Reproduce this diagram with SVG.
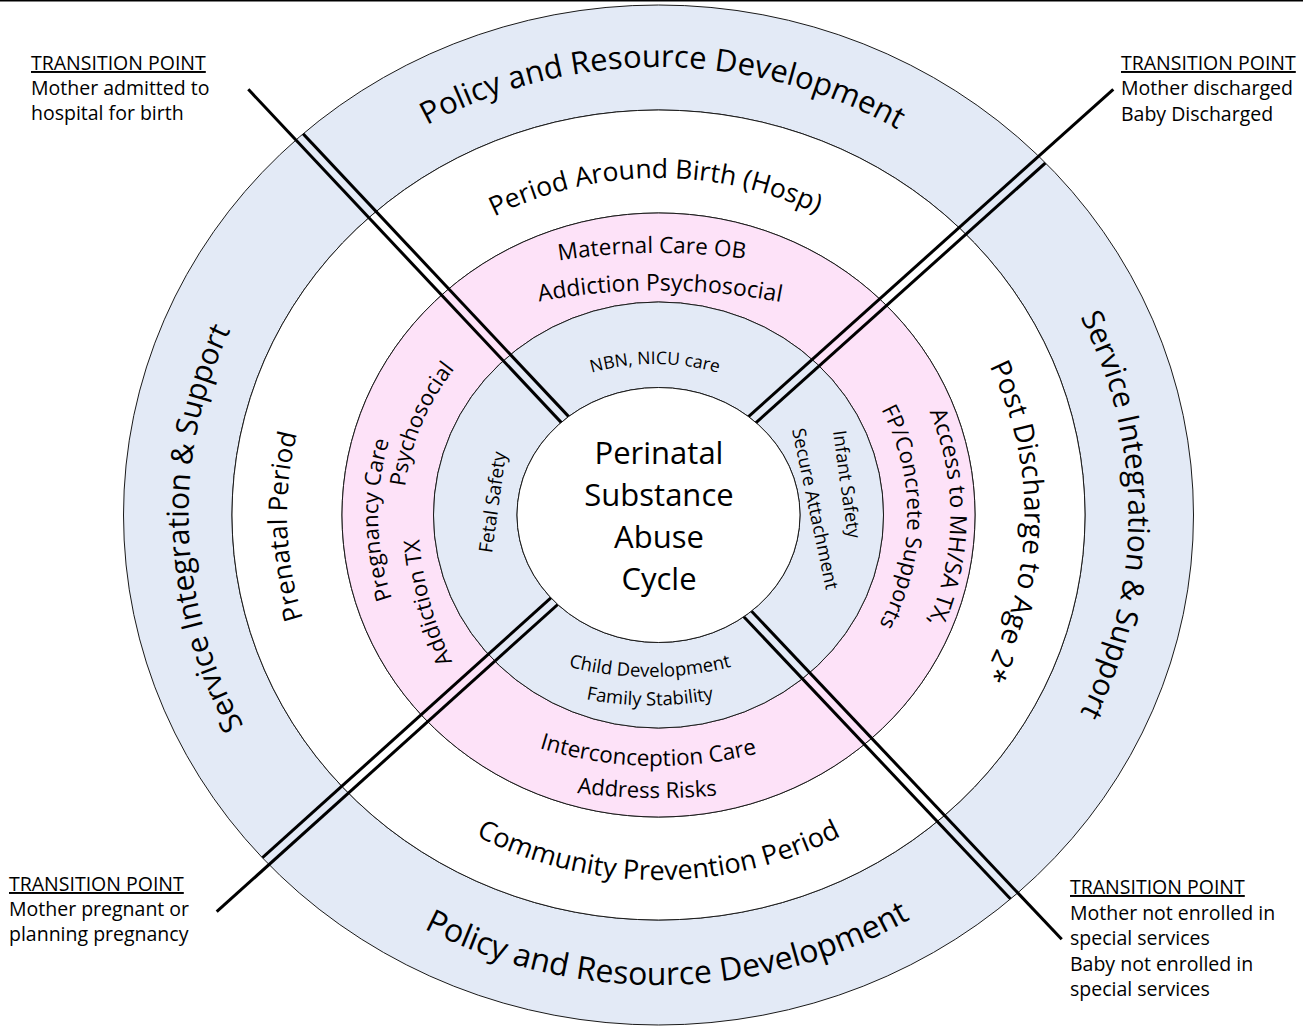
<svg xmlns="http://www.w3.org/2000/svg" width="1303" height="1029" viewBox="0 0 1303 1029">
<style>
.ring{stroke:#1a1a1a;stroke-width:1;fill-rule:evenodd}
.blue{fill:#E3EAF6}
.pink{fill:#FDE2F8}
.white{fill:#ffffff}
.t{font-family:"Open Sans","DejaVu Sans",sans-serif;fill:#000}
.mid{text-anchor:middle}
.lbl{font-family:"Open Sans","DejaVu Sans",sans-serif;font-size:19.5px;fill:#000}
.conn{stroke:#000;stroke-width:3;fill:none}
</style>
<defs>
<clipPath id="inOuter"><ellipse cx="658.5" cy="515" rx="535" ry="510"/></clipPath>
<path id="p1top" d="M 188.5 515 A 470 448 0 0 1 1128.5 515"/>
<path id="p1bot" d="M 165.5 515 A 493 470 0 0 0 1151.5 515"/>
<path id="p1left" d="M 658.5 963 A 470 448 0 0 1 658.5 67"/>
<path id="p1right" d="M 658.5 67 A 470 448 0 0 1 658.5 963"/>
<path id="p2top" d="M 304.5 515 A 354 337 0 0 1 1012.5 515"/>
<path id="p2bot" d="M 275.5 515 A 383 365 0 0 0 1041.5 515"/>
<path id="p2left" d="M 658.5 869 A 371.5 354 0 0 1 658.5 161"/>
<path id="p2right" d="M 658.5 166 A 366 349 0 0 1 658.5 864"/>
<path id="p3top1" d="M 458 284.5 A 650 650 0 0 1 858 284.5"/>
<path id="p3top2" d="M 458 322 A 650 650 0 0 1 858 322"/>
<path id="p3bot1" d="M 458 712.4 A 400 400 0 0 0 858 712.4"/>
<path id="p3bot2" d="M 458 766.5 A 650 650 0 0 0 858 766.5"/>
<path id="p3left1" d="M 446.9 690.2 A 280.35 267 0 0 1 440.6 347"/>
<path id="p3left2" d="M 416.5 592.1 A 255.15 243 0 0 1 536.7 301.5"/>
<path id="p3left3" d="M 470.3 694.55 A 350 350 0 0 1 418.2 501.45"/>
<path id="p3right1" d="M 883.7 338.2 A 291.9 278 0 0 1 880.5 695.5"/>
<path id="p3right2" d="M 850.5 364.2 A 248.85 237 0 0 1 847.7 668.9"/>
<path id="p4top" d="M 535 397.8 A 230 230 0 0 1 775 397.8"/>
<path id="p4bot1" d="M 500 640.9 A 330 330 0 0 0 800 640.9"/>
<path id="p4bot2" d="M 500 669.4 A 330 330 0 0 0 800 669.4"/>
</defs>
<line x1="0" y1="0.8" x2="1303" y2="0.8" stroke="#000" stroke-width="1.6"/>
<g id="ring-policy">
<path class="ring blue" d="M 123.5 515 A 535 510 0 1 0 1193.5 515 A 535 510 0 1 0 123.5 515 Z M 232 515 A 426.5 405 0 1 0 1085 515 A 426.5 405 0 1 0 232 515 Z"/>
<text class="t" font-size="31"><textPath href="#p1top" startOffset="50.3%" text-anchor="middle">Policy and Resource Development</textPath></text>
<text class="t" font-size="32"><textPath href="#p1bot" startOffset="50.65%" text-anchor="middle">Policy and Resource Development</textPath></text>
<text class="t" font-size="30"><textPath href="#p1left" startOffset="49%" text-anchor="middle">Service Integration &amp; Support</textPath></text>
<text class="t" font-size="30"><textPath href="#p1right" startOffset="50%" text-anchor="middle">Service Integration &amp; Support</textPath></text>
</g>
<g id="ring-periods">
<path class="ring white" d="M 232 515 A 426.5 405 0 1 0 1085 515 A 426.5 405 0 1 0 232 515 Z M 342 515 A 316.5 302 0 1 0 975 515 A 316.5 302 0 1 0 342 515 Z"/>
<text class="t" font-size="26.5"><textPath href="#p2top" startOffset="49.7%" text-anchor="middle">Period Around Birth (Hosp)</textPath></text>
<text class="t" font-size="27"><textPath href="#p2bot" startOffset="50%" text-anchor="middle">Community Prevention Period</textPath></text>
<text class="t" font-size="26"><textPath href="#p2left" startOffset="49%" text-anchor="middle">Prenatal Period</textPath></text>
<text class="t" font-size="28"><textPath href="#p2right" startOffset="50.6%" text-anchor="middle">Post Discharge to Age 2*</textPath></text>
</g>
<g id="ring-care">
<path class="ring pink" d="M 342 515 A 316.5 302 0 1 0 975 515 A 316.5 302 0 1 0 342 515 Z M 433.5 515 A 225 213 0 1 0 883.5 515 A 225 213 0 1 0 433.5 515 Z"/>
<text class="t" font-size="22.5"><textPath href="#p3top1" startOffset="48.5%" text-anchor="middle">Maternal Care OB</textPath></text>
<text class="t" font-size="23"><textPath href="#p3top2" startOffset="50.5%" text-anchor="middle">Addiction Psychosocial</textPath></text>
<text class="t" font-size="22.5"><textPath href="#p3bot1" startOffset="47.6%" text-anchor="middle">Interconception Care</textPath></text>
<text class="t" font-size="22"><textPath href="#p3bot2" startOffset="47.3%" text-anchor="middle">Address Risks</textPath></text>
<text class="t" font-size="22"><textPath href="#p3left1" startOffset="50%" text-anchor="middle">Pregnancy Care</textPath></text>
<text class="t" font-size="22"><textPath href="#p3left2" startOffset="50%" text-anchor="middle">Psychosocial</textPath></text>
<text class="t" font-size="22"><textPath href="#p3left3" startOffset="50%" text-anchor="middle">Addiction TX</textPath></text>
<text class="t" font-size="23"><textPath href="#p3right1" startOffset="50%" text-anchor="middle">Access to MH/SA TX,</textPath></text>
<text class="t" font-size="22"><textPath href="#p3right2" startOffset="50%" text-anchor="middle">FP/Concrete Supports</textPath></text>
</g>
<g id="ring-child">
<path class="ring blue" d="M 433.5 515 A 225 213 0 1 0 883.5 515 A 225 213 0 1 0 433.5 515 Z M 517 515 A 141.5 127.5 0 1 0 800 515 A 141.5 127.5 0 1 0 517 515 Z"/>
<text class="t" font-size="17.5"><textPath href="#p4top" startOffset="50%" text-anchor="middle">NBN, NICU care</textPath></text>
<text class="t" font-size="18.5"><textPath href="#p4bot1" startOffset="50%" text-anchor="middle">Child Development</textPath></text>
<text class="t" font-size="18.5"><textPath href="#p4bot2" startOffset="50%" text-anchor="middle">Family Stability</textPath></text>
<text class="t mid" font-size="19" transform="translate(499,503) rotate(-82)">Fetal Safety</text>
<text class="t mid" font-size="18.5" transform="translate(840.5,485) rotate(82)">Infant Safety</text>
<text class="t mid" font-size="18.5" transform="translate(809,510) rotate(78)">Secure Attachment</text>
</g>
<g id="connectors">
<line class="conn" x1="248.3" y1="89.3" x2="590" y2="453.1"/>
<line class="conn" x1="206.9" y1="31.4" x2="596.9" y2="446.6" clip-path="url(#inOuter)"/>
<line class="conn" x1="1113.3" y1="89.3" x2="720" y2="442.2"/>
<line class="conn" x1="1166.3" y1="54.5" x2="726.3" y2="449.3" clip-path="url(#inOuter)"/>
<line class="conn" x1="216.7" y1="911.7" x2="600" y2="566.5"/>
<line class="conn" x1="163.6" y1="946.7" x2="593.6" y2="559.4" clip-path="url(#inOuter)"/>
<line class="conn" x1="1061.7" y1="939.3" x2="715" y2="572.5"/>
<line class="conn" x1="1103.1" y1="996.9" x2="708.1" y2="579" clip-path="url(#inOuter)"/>
</g>
<g id="center">
<ellipse class="ring white" cx="658.5" cy="515" rx="141.5" ry="127.5"/>
<text class="t mid" font-size="31" x="659" y="464">Perinatal</text>
<text class="t mid" font-size="31" x="659" y="506">Substance</text>
<text class="t mid" font-size="31" x="659" y="548">Abuse</text>
<text class="t mid" font-size="31" x="659" y="590">Cycle</text>
</g>
<g id="tp-admitted">
<text class="lbl" x="31" y="70"><tspan text-decoration="underline">TRANSITION POINT</tspan></text>
<text class="lbl" x="31" y="95">Mother admitted to</text>
<text class="lbl" x="31" y="120">hospital for birth</text>
</g>
<g id="tp-discharged">
<text class="lbl" x="1121" y="70"><tspan text-decoration="underline">TRANSITION POINT</tspan></text>
<text class="lbl" x="1121" y="95">Mother discharged</text>
<text class="lbl" x="1121" y="121">Baby Discharged</text>
</g>
<g id="tp-pregnant">
<text class="lbl" x="9" y="891"><tspan text-decoration="underline">TRANSITION POINT</tspan></text>
<text class="lbl" x="9" y="916">Mother pregnant or</text>
<text class="lbl" x="9" y="941">planning pregnancy</text>
</g>
<g id="tp-notenrolled">
<text class="lbl" x="1070" y="894"><tspan text-decoration="underline">TRANSITION POINT</tspan></text>
<text class="lbl" x="1070" y="920">Mother not enrolled in</text>
<text class="lbl" x="1070" y="945">special services</text>
<text class="lbl" x="1070" y="971">Baby not enrolled in</text>
<text class="lbl" x="1070" y="996">special services</text>
</g>
</svg>
